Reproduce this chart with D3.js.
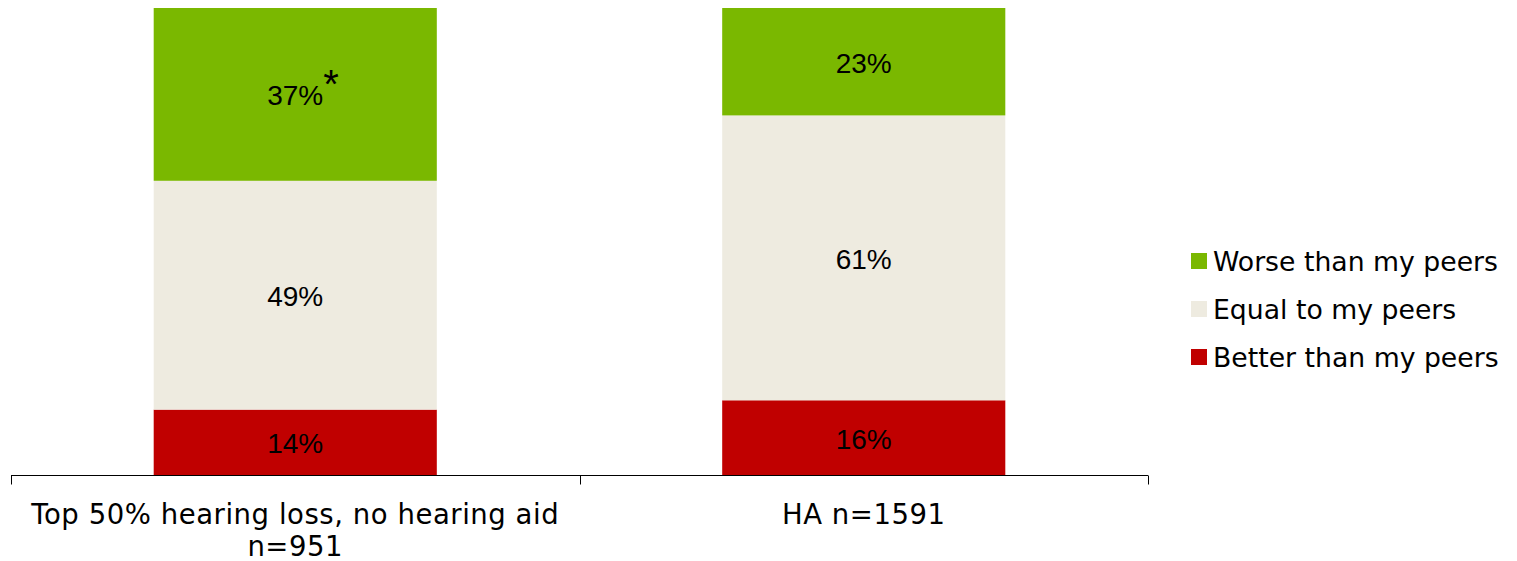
<!DOCTYPE html>
<html>
<head>
<meta charset="utf-8">
<script src="https://cdn.jsdelivr.net/npm/d3@7"></script>
<style>
  html, body { margin: 0; padding: 0; background: #fff; }
  svg { display: block; }
</style>
</head>
<body>
<svg id="chart" width="1517" height="561"></svg>
<script>
const categories = ["Top 50% hearing loss, no hearing aid\nn=951", "HA n=1591"];
const seriesNames = ["Better than my peers", "Equal to my peers", "Worse than my peers"];
const better = [14, 16];
const equal = [49, 61];
const worse = [37, 23];
const worseMarks = ["*", ""];
const colors = ["#C00000", "#EEEBE0", "#7AB800"];

const svg = d3.select("#chart");
const x = d3.scaleBand().domain(categories).range([11, 1148]).paddingInner(0.502).paddingOuter(0.251);
const y = d3.scaleLinear().domain([0, 100]).range([475, 8]);

const rows = categories.map((c, i) => ({ cat: c, v0: better[i], v1: equal[i], v2: worse[i], mark: worseMarks[i] }));
const stack = d3.stack().keys(["v0", "v1", "v2"])(rows);

const g = svg.append("g");
stack.forEach((layer, li) => {
  const lg = g.append("g");
  lg.selectAll("rect").data(layer).join("rect")
    .attr("x", d => x(d.data.cat))
    .attr("width", x.bandwidth())
    .attr("y", d => y(d[1]))
    .attr("height", d => y(d[0]) - y(d[1]))
    .attr("fill", colors[li]);
  lg.selectAll("text").data(layer).join("text")
    .attr("x", d => x(d.data.cat) + x.bandwidth() / 2)
    .attr("y", d => (y(d[0]) + y(d[1])) / 2 + 1)
    .attr("dy", "0.36em")
    .attr("text-anchor", "middle")
    .attr("font-family", "Liberation Sans, Arial, sans-serif")
    .attr("font-size", 28)
    .attr("fill", "#000")
    .text(d => (d[1] - d[0]) + "%")
    .each(function(d) {
      if (li === 2 && d.data.mark) {
        const w = this.getComputedTextLength();
        lg.append("text")
          .attr("x", x(d.data.cat) + x.bandwidth() / 2 + w / 2)
          .attr("y", (y(d[0]) + y(d[1])) / 2 + 4)
          .attr("font-family", "Liberation Sans, Arial, sans-serif")
          .attr("font-size", 40)
          .attr("fill", "#000")
          .text(d.data.mark);
      }
    });
});

// axis
const axisG = svg.append("g").attr("transform", "translate(0,475.5)");
axisG.append("line").attr("x1", 11).attr("x2", 1148).attr("stroke", "#000").attr("stroke-width", 1);
const tickXs = [11, ...categories.slice(1).map(c => x(c) - x.step() * x.paddingInner() / 2), 1148];
axisG.selectAll("line.tick").data(tickXs).join("line").attr("class", "tick")
  .attr("x1", d => Math.round(d) + 0.5).attr("x2", d => Math.round(d) + 0.5)
  .attr("y1", 0).attr("y2", 9).attr("stroke", "#000");

categories.forEach(c => {
  const lines = c.split("\n");
  const t = svg.append("text")
    .attr("text-anchor", "middle")
    .attr("font-family", "DejaVu Sans, Verdana, sans-serif")
    .attr("font-size", 27.5)
    .attr("letter-spacing", 0.55)
    .attr("fill", "#000");
  lines.forEach((ln, i) => {
    t.append("tspan").attr("x", x(c) + x.bandwidth() / 2).attr("y", 523.5 + i * 32).text(ln);
  });
});

// legend
const legendOrder = [2, 1, 0];
const leg = svg.append("g");
legendOrder.forEach((si, k) => {
  const cy = 261 + k * 48;
  leg.append("rect").attr("x", 1191).attr("y", cy - 8).attr("width", 16).attr("height", 16).attr("fill", colors[si]);
  leg.append("text").attr("x", 1213).attr("y", cy + 10)
    .attr("font-family", "DejaVu Sans, Verdana, sans-serif")
    .attr("font-size", 26.7)
    .attr("fill", "#000")
    .text(seriesNames[si]);
});
</script>
</body>
</html>
